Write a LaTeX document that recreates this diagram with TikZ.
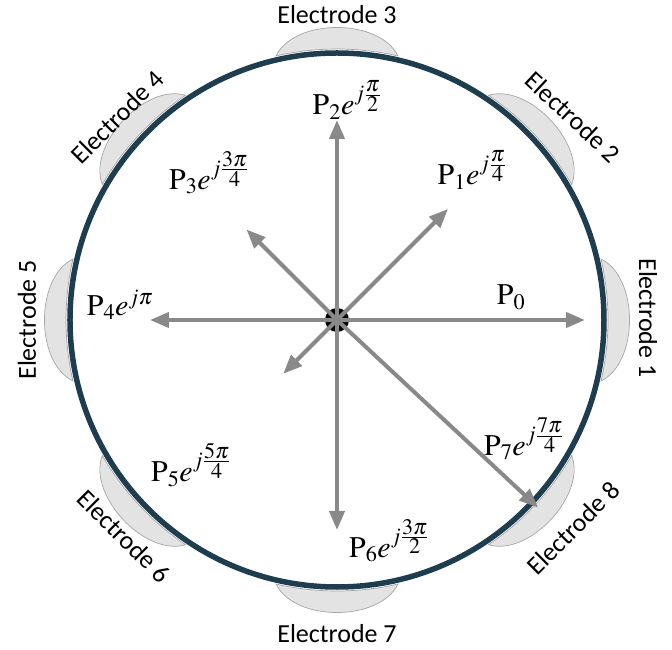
\documentclass[tikz,border=0pt]{standalone}
\usepackage{mathptmx}
\usepackage{fontspec}
\setmainfont{Liberation Serif}
\newfontfamily\electrodefont{Carlito}
\usetikzlibrary{arrows.meta}

\definecolor{ringblue}{RGB}{30,62,80}
\definecolor{arrowgray}{RGB}{137,137,137}

\begin{document}
\begin{tikzpicture}[
  x=1pt, y=1pt,
  >={Triangle[length=19pt,width=15pt]},
  vec/.style   ={->,draw=arrowgray,line width=4pt},
  tag/.style   ={font=\fontsize{26}{30}\selectfont\electrodefont,inner sep=0pt},
  phasor/.style={font=\fontsize{30}{34}\selectfont,inner sep=0pt},
  electrode/.pic={
    \path[draw=gray!70,fill=gray!22,line width=0.7pt]
      (-13:271) arc[start angle=-13,end angle=13,radius=271]
      .. controls (8:305) and (-8:305) .. (-13:271) -- cycle;
  },
]

%% ============================================================
%% Origin at the hub, 1 unit = 1pt, ring radius 267
%% ============================================================
\useasboundingbox (-337,-330) rectangle (335,320);

% --- Electrodes (drawn under the ring) ---
\pic[rotate=0]   at (0,0) {electrode};
\pic[rotate=43]  at (0,0) {electrode};
\pic[rotate=90]  at (0,0) {electrode};
\pic[rotate=137] at (0,0) {electrode};
\pic[rotate=180] at (0,0) {electrode};
\pic[rotate=223] at (0,0) {electrode};
\pic[rotate=270] at (0,0) {electrode};
\pic[rotate=317] at (0,0) {electrode};

% --- Ring ---
\node[circle,draw=ringblue,line width=5.5pt,minimum size=534pt,
      inner sep=0pt] (ring) at (0,0) {};

% --- Electrode names ---
\node[tag,rotate=-90] (e1) at (311,2)      {Electrode 1};
\node[tag,rotate=-43] (e2) at (236,203)    {Electrode 2};
\node[tag]            (e3) at (0,305)      {Electrode 3};
\node[tag,rotate=45]  (e4) at (-220,203)   {Electrode 4};
\node[tag,rotate=90]  (e5) at (-310,0)     {Electrode 5};
\node[tag,rotate=-45] (e6) at (-213,-216)  {Electrode 6};
\node[tag]            (e7) at (0,-314)     {Electrode 7};
\node[tag,rotate=45]  (e8) at (236,-208)   {Electrode 8};

% --- Hub and phasor tips ---
\node[circle,fill=black,minimum size=24pt,inner sep=0pt] (hub) at (0,0) {};

\coordinate (p0) at (0:248);
\coordinate (p1) at (45:157);
\coordinate (p2) at (90:200);
\coordinate (p3) at (135:128);
\coordinate (p4) at (180:187);
\coordinate (p5) at (225:76);
\coordinate (p6) at (270:210);
\coordinate (p7) at (317:275);

\draw[vec] (hub.center) -- (p0);
\draw[vec] (hub.center) -- (p1);
\draw[vec] (hub.center) -- (p2);
\draw[vec] (hub.center) -- (p3);
\draw[vec] (hub.center) -- (p4);
\draw[vec] (hub.center) -- (p5);
\draw[vec] (hub.center) -- (p6);
\draw[vec] (hub.center) -- (p7);

% --- Phasor labels ---
\node[phasor] (l0) at (174,23)    {$\mathrm{P}_0$};
\node[phasor] (l1) at (135,150)   {$\mathrm{P}_1e^{j\frac{\scriptstyle\pi}{\scriptstyle 4}}$};
\node[phasor] (l2) at (10,220)    {$\mathrm{P}_2e^{j\frac{\scriptstyle\pi}{\scriptstyle 2}}$};
\node[phasor] (l3) at (-128,147)  {$\mathrm{P}_3e^{j\frac{\scriptstyle 3\pi}{\scriptstyle 4}}$};
\node[phasor] (l4) at (-217,15)   {$\mathrm{P}_4e^{j\pi}$};
\node[phasor] (l5) at (-146,-145) {$\mathrm{P}_5e^{j\frac{\scriptstyle 5\pi}{\scriptstyle 4}}$};
\node[phasor] (l6) at (52,-221)   {$\mathrm{P}_6e^{j\frac{\scriptstyle 3\pi}{\scriptstyle 2}}$};
\node[phasor] (l7) at (187,-119)  {$\mathrm{P}_7e^{j\frac{\scriptstyle 7\pi}{\scriptstyle 4}}$};

\end{tikzpicture}
\end{document}
